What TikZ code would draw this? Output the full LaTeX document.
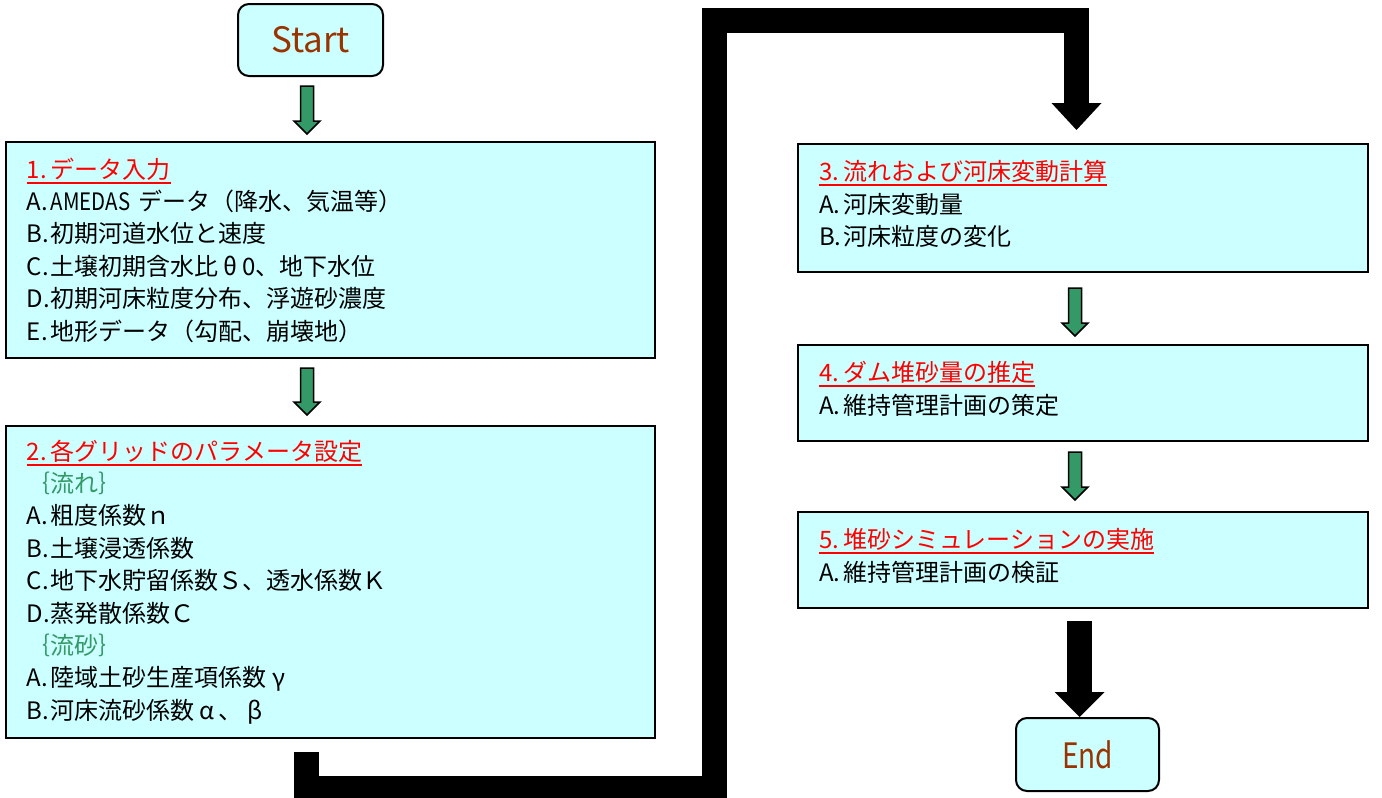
\documentclass[tikz,border=0pt]{standalone}
\usepackage{fontspec}
\usepackage{graphicx}
\setmainfont{Noto Sans CJK JP}
\usetikzlibrary{calc,arrows.meta}
\definecolor{boxfill}{HTML}{CCFFFF}
\definecolor{arrgreen}{HTML}{339966}
\definecolor{titlered}{HTML}{FF0000}
\definecolor{brownt}{HTML}{993300}
\newcommand\redul[1]{\setbox0\hbox{#1}\rlap{\rule[-5.5pt]{\wd0}{1.8pt}}\box0}
\newcommand\pf[1]{\makebox[1em][l]{#1}}
\newcommand\fw[1]{\makebox[1em]{#1}}
\newcommand\hw[1]{\scalebox{0.85}[1]{#1}}
\begin{document}
\begin{tikzpicture}[x=1pt,y=-1pt,
  stepbox/.style={draw=black, line width=2pt, fill=boxfill, rectangle, align=left,
    inner xsep=21pt, inner ysep=0pt, font=\fontsize{24}{32.4}\selectfont, text=black},
  termbox/.style={draw=black, line width=2pt, fill=boxfill, rounded corners=11pt,
    font=\fontsize{35}{35}\selectfont, text=brownt},
  greenarrow/.style={draw=black, line width=1.5pt, fill=arrgreen, line join=miter,
    to path={let \p1=(\tikztostart), \p2=(\tikztotarget) in
      (\x1-6.5pt,\y1) -- (\x1+6.5pt,\y1) -- (\x1+6.5pt,\y2+13pt) -- (\x1+13pt,\y2+13pt)
      -- (\x1,\y2) -- (\x1-13pt,\y2+13pt) -- (\x1-6.5pt,\y2+13pt) -- cycle}},
  bigconn/.style={draw=black, line width=25pt, line join=miter}
]
\useasboundingbox (0,0) rectangle (1382,798);

\node[termbox, minimum width=145pt, minimum height=72pt] (start) at (310.5,40) {Start};

\node[stepbox, minimum width=649pt, minimum height=216pt, text width=607pt] (b1) at (330.5,250)
 {{\color{titlered}\redul{\pf{1.}データ入力}}\\
  \pf{A.}\hw{AMEDAS} データ（降水、気温等）\\
  \pf{B.}初期河道水位と速度\\
  \pf{C.}土壌初期含水比\fw{θ}\makebox[0.5em]{0}、地下水位\\
  \pf{D.}初期河床粒度分布、浮遊砂濃度\\
  \pf{E.}地形データ（勾配、崩壊地）};

\node[stepbox, minimum width=649pt, minimum height=312pt, text width=607pt] (b2) at (330.5,582)
 {{\color{titlered}\redul{\pf{2.}各グリッドのパラメータ設定}}\\
  {\color{arrgreen}｛流れ｝}\\
  \pf{A.}粗度係数ｎ\\
  \pf{B.}土壌浸透係数\\
  \pf{C.}地下水貯留係数Ｓ、透水係数Ｋ\\
  \pf{D.}蒸発散係数Ｃ\\
  {\color{arrgreen}｛流砂｝}\\
  \pf{A.}陸域土砂生産項係数\fw{γ}\\
  \pf{B.}河床流砂係数\fw{α}、\fw{β}};

\node[stepbox, minimum width=570pt, minimum height=128pt, text width=528pt, text depth=75pt] (b3) at (1083,208)
 {{\color{titlered}\redul{\pf{3.}流れおよび河床変動計算}}\\
  \pf{A.}河床変動量\\
  \pf{B.}河床粒度の変化};

\node[stepbox, minimum width=570pt, minimum height=96pt, text width=528pt, text depth=42.8pt] (b4) at (1083,393)
 {{\color{titlered}\redul{\pf{4.}ダム堆砂量の推定}}\\
  \pf{A.}維持管理計画の策定};

\node[stepbox, minimum width=570pt, minimum height=96pt, text width=528pt, text depth=42.8pt] (b5) at (1083,560)
 {{\color{titlered}\redul{\pf{5.}堆砂シミュレーションの実施}}\\
  \pf{A.}維持管理計画の検証};

\node[termbox, minimum width=143pt, minimum height=73pt] (end) at (1087.5,754.5) {\scalebox{0.8}[1]{End}};

% green arrows
\path[greenarrow] ([xshift=-3.5pt,yshift=-9pt]start.south) to ([yshift=7pt]b1.north);
\path[greenarrow] ([xshift=-23.5pt,yshift=-9pt]b1.south) to ([yshift=10pt]b2.north);
\path[greenarrow] ([xshift=-8pt,yshift=-15pt]b3.south) to ([yshift=8pt]b4.north);
\path[greenarrow] ([xshift=-8pt,yshift=-10pt]b4.south) to ([yshift=11pt]b5.north);

% thick black connectors
\coordinate (c1) at (714.5,788);
\coordinate (c2) at (714.5,20);
\draw[bigconn, -{Triangle[width=50pt,length=27pt,line width=0pt]}]
  ([xshift=-24.5pt,yshift=-13pt]b2.south) |- (c1) -- (c2) -| ([xshift=-6.5pt,yshift=13pt]b3.north);
\draw[bigconn, -{Triangle[width=50pt,length=25pt,line width=0pt]}]
  ([xshift=-3.5pt,yshift=-12pt]b5.south) -- ([xshift=-8pt]end.north);
\end{tikzpicture}
\end{document}
